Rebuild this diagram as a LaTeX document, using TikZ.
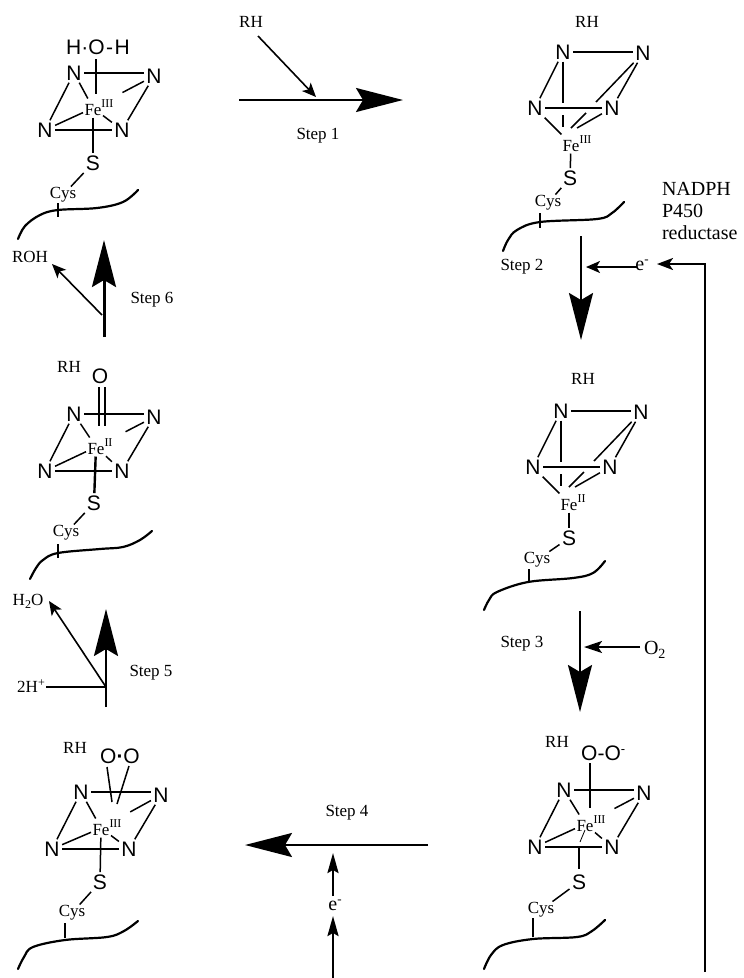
\documentclass[tikz,border=0pt]{standalone}
\usepackage{fontspec}
\setmainfont{Liberation Serif}
\newfontfamily\arialf{Liberation Sans}
\usetikzlibrary{arrows.meta}
\newcommand{\fsz}[1]{\fontsize{#1}{#1}\selectfont}
\newcommand{\feox}[1]{Fe\rlap{\raisebox{8pt}{\fsz{12}#1}}}
\newcommand{\minus}{\raisebox{7pt}{\fsz{13}-}}
\tikzset{
  atom/.style={font=\arialf\fsz{21},inner sep=2.5pt,outer sep=0pt},
  lbl/.style={font=\fsz{17},inner sep=0pt,outer sep=0pt},
  big/.style={font=\fsz{20},inner sep=0pt,outer sep=0pt,anchor=west},
  fenode/.style={font=\fsz{17},inner sep=1.5pt,outer sep=0pt},
  cysnode/.style={font=\fsz{17},inner sep=1pt,outer sep=0pt},
  bond/.style={line width=1.5pt,black},
  thickbond/.style={line width=2.4pt,black},
  chain/.style={line width=2.2pt,black,line cap=round},
  mainarrow/.style={line width=2.2pt,-{Stealth[length=47pt,width=24pt,inset=7pt]}},
  thinarrow/.style={line width=1.6pt,-{Stealth[length=14pt,width=12pt,inset=3.5pt]}},
  midarrow/.style={line width=2.4pt,-{Stealth[length=20pt,width=11pt,inset=3pt]}},
}
% flat heme: prefix, x, y of first N, Fe oxidation text, Fe offset x, y
\newcommand{\hemeflat}[6]{%
  \begin{scope}[shift={(#2,#3)}]
    \node[atom] (#1a) at (0,0) {N};
    \node[atom] (#1b) at (80,3) {N};
    \node[atom] (#1c) at (-29,57) {N};
    \node[atom] (#1d) at (48,57) {N};
    \node[fenode] (#1f) at (#5,#6) {\feox{#4}};
    \draw[bond] (#1a.east) -- (#1a.east -| #1b.west);
    \draw[bond] (#1c.east) -- (#1c.east -| #1d.west);
    \draw[bond] (#1a) -- (#1c);
    \draw[bond] (#1b) -- (#1d);
    \draw[bond] (#1a) -- (#1f);
    \draw[bond] (#1c) -- (#1f);
    \draw[bond] (#1d) -- (#1f);
    \draw[bond,shorten >=22pt] (#1b) -- (#1f);
  \end{scope}}
% upright heme: prefix, x, y of first N, Fe oxidation text
\newcommand{\hemeup}[4]{%
  \begin{scope}[shift={(#2,#3)}]
    \node[atom] (#1a) at (0,0) {N};
    \node[atom] (#1b) at (80,1) {N};
    \node[atom] (#1c) at (-28,56) {N};
    \node[atom] (#1d) at (49,56) {N};
    \node[fenode] (#1f) at (8,92) {\feox{#4}};
    \coordinate (#1v1) at (0,51);
    \coordinate (#1v2) at (0,63);
    \coordinate (#1v3) at (0,75);
    \coordinate (#1g1) at (33,50);
    \coordinate (#1g2) at (23,61);
    \coordinate (#1g3) at (8,76);
    \coordinate (#1h) at (14,76);
    \draw[bond] (#1a.east) -- (#1a.east -| #1b.west);
    \draw[bond] (#1c.east) -- (#1c.east -| #1d.west);
    \draw[bond] (#1a) -- (#1c);
    \draw[bond] (#1b) -- (#1d);
    \draw[bond] (#1a) -- (#1v1);
    \draw[bond] (#1v2) -- (#1v3);
    \draw[bond] (#1c) -- (#1f);
    \draw[bond] (#1d) -- (#1h);
    \draw[bond] (#1b) -- (#1g1);
    \draw[bond] (#1g2) -- (#1g3);
  \end{scope}}
\begin{document}
\begin{tikzpicture}[x=1pt,y=-1pt]
\useasboundingbox (0,0) rectangle (744,978);
\fill[white] (0,0) rectangle (744,978);

%% molecule 1: top left
\hemeflat{A}{74}{73}{III}{19}{35}
\node[atom,inner sep=0pt] (Aw) at (98,47) {H·O\kern1.5pt-\kern1.5pt H};
\coordinate (Aw1) at (96,59);
\coordinate (Aw2) at (96,94);
\draw[bond] (Aw1) -- (Aw2);
\node[atom] (AS) at (93,163) {S};
\node[cysnode] (AC) at (63,195) {Cys};
\draw[bond] (Af) -- (AS);
\draw[bond] (AS) -- (AC);
\draw[chain] plot[smooth,tension=.6] coordinates {(18,239) (25,226) (40,215) (58,210) (97,208) (123,202) (138,190)};
\coordinate (At1) at (58,203);
\coordinate (At2) at (58,217);
\draw[thickbond] (At1) -- (At2);

%% molecule 2: top right
\node[lbl] (Brh) at (587,22) {RH};
\hemeup{B}{563}{52}{III}
\node[atom] (BS) at (570,178) {S};
\node[cysnode] (BC) at (548,203) {Cys};
\draw[bond] (Bf) -- (BS);
\draw[bond] (BS) -- (BC);
\draw[chain] plot[smooth,tension=.6] coordinates {(503,251) (508,240) (517,230) (540,222) (597,219) (612,213) (624,202)};
\coordinate (Bt1) at (540,213);
\coordinate (Bt2) at (540,228);
\draw[thickbond] (Bt1) -- (Bt2);

%% molecule 3: right middle
\node[lbl] (Crh) at (583,379) {RH};
\hemeup{C}{561}{411}{II}
\node[atom] (CS) at (569,538) {S};
\node[cysnode] (CC) at (537,560) {Cys};
\draw[bond] (Cf) -- (CS);
\draw[bond] (CS) -- (CC);
\draw[chain] plot[smooth,tension=.6] coordinates {(484,610) (489,600) (497,592) (528,582) (573,578) (593,573) (605,561)};
\coordinate (Ct1) at (529,569);
\coordinate (Ct2) at (529,583);
\draw[bond] (Ct1) -- (Ct2);

%% molecule 4: bottom right
\node[lbl] (Drh) at (557,742) {RH};
\hemeflat{D}{564}{790}{III}{21}{34}
\node[atom,inner sep=0pt] (Do) at (601,753) {O-O\rlap{\raisebox{7pt}{\fsz{13}-}}};
\coordinate (Do1) at (590,763);
\coordinate (Do2) at (590,808);
\draw[bond] (Do1) -- (Do2);
\node[atom] (DS) at (579,882) {S};
\node[cysnode] (DC) at (541,910) {Cys};
\coordinate (Ds1) at (579,848);
\coordinate (Ds2) at (579,869);
\coordinate (Ds3) at (585,830);
\coordinate (Ds4) at (580,842);
\draw[thickbond] (Ds1) -- (Ds2);
\draw[line width=.8pt] (Ds3) -- (Ds4);
\draw[bond] (DS) -- (DC);
\draw[chain] plot[smooth,tension=.6] coordinates {(484,969) (491,955) (503,945) (533,939) (577,937) (592,931) (605,920)};
\coordinate (Dt1) at (533,918);
\coordinate (Dt2) at (533,937);
\draw[bond] (Dt1) -- (Dt2);

%% molecule 5: bottom left
\node[lbl] (Erh) at (75,748) {RH};
\hemeflat{E}{81}{792}{III}{20}{36}
\node[atom,inner sep=0pt] (Eo) at (120,756) {O\textbf{·}O};
\coordinate (Eo1) at (107,767);
\coordinate (Eo2) at (112,802);
\coordinate (Eo3) at (129,766);
\coordinate (Eo4) at (117,804);
\draw[bond] (Eo1) -- (Eo2);
\draw[bond] (Eo3) -- (Eo4);
\node[atom] (ES) at (100,882) {S};
\node[cysnode] (EC) at (72,913) {Cys};
\draw[bond] (Ef) -- (ES);
\draw[bond] (ES) -- (EC);
\draw[chain] plot[smooth,tension=.6] coordinates {(18,969) (24,957) (33,947) (65,940) (107,937) (124,931) (138,921)};
\coordinate (Et1) at (65,923);
\coordinate (Et2) at (65,938);
\draw[bond] (Et1) -- (Et2);

%% molecule 6: left middle
\node[lbl] (Frh) at (69,367) {RH};
\hemeflat{F}{74}{414}{II}{22}{33}
\node[atom,inner sep=0pt] (Fo) at (100,376) {O};
\coordinate (Fo1) at (99,387);
\coordinate (Fo2) at (99,426);
\coordinate (Fo3) at (105,387);
\coordinate (Fo4) at (105,426);
\draw[bond] (Fo1) -- (Fo2);
\draw[bond] (Fo3) -- (Fo4);
\node[atom] (FS) at (94,503) {S};
\node[cysnode] (FC) at (66,533) {Cys};
\draw[thickbond] (Ff) -- (FS);
\draw[bond] (FS) -- (FC);
\draw[chain] plot[smooth,tension=.6] coordinates {(30,579) (36,568) (43,560) (58,553) (100,549) (123,547) (140,540) (152,531)};
\coordinate (Ft1) at (58,544);
\coordinate (Ft2) at (58,558);
\draw[thickbond] (Ft1) -- (Ft2);

%% step 1
\node[lbl] (rh1) at (251,22) {RH};
\node[lbl] (st1) at (318,136) {Step 1};
\coordinate (s1a) at (239,100);
\coordinate (s1b) at (403,100);
\coordinate (s1c) at (258,36);
\coordinate (s1d) at (316,97);
\draw[mainarrow] (s1a) -- (s1b);
\draw[thinarrow] (s1c) -- (s1d);

%% step 2
\node[lbl] (st2) at (522,267) {Step 2};
\node[big,align=left,anchor=north west,font=\fsz{20}] (nadph) at (662,182) {NADPH\\[2pt]P450\\[2pt]reductase};
\node[font=\fsz{20},inner sep=0pt] (e1) at (642,265) {e\minus};
\coordinate (s2a) at (581,236);
\coordinate (s2b) at (581,340);
\coordinate (s2c) at (586,267);
\coordinate (s2d) at (637,267);
\coordinate (s2e) at (705,972);
\coordinate (s2f) at (705,264);
\coordinate (s2g) at (657,264);
\draw[mainarrow] (s2a) -- (s2b);
\draw[thinarrow] (s2d) -- (s2c);
\draw[line width=2.2pt,-{Stealth[length=16pt,width=12pt,inset=4pt]}] (s2e) -- (s2f) -- (s2g);

%% step 3
\node[lbl] (st3) at (522,644) {Step 3};
\node[big] (o2) at (644,650) {O\raisebox{-3.5pt}{\fsz{14}2}};
\coordinate (s3a) at (580,611);
\coordinate (s3b) at (580,712);
\coordinate (s3c) at (640,647);
\coordinate (s3d) at (584,647);
\draw[mainarrow] (s3a) -- (s3b);
\draw[line width=2pt,-{Stealth[length=18pt,width=12pt,inset=4pt]}] (s3c) -- (s3d);

%% step 4
\node[lbl] (st4) at (347,813) {Step 4};
\node[font=\fsz{20},inner sep=0pt] (e2) at (335,905) {e\minus};
\coordinate (s4a) at (428,845);
\coordinate (s4b) at (245,845);
\coordinate (s4c) at (333,978);
\coordinate (s4d) at (333,916);
\coordinate (s4e) at (333,896);
\coordinate (s4f) at (333,853);
\draw[mainarrow] (s4a) -- (s4b);
\draw[midarrow] (s4c) -- (s4d);
\draw[midarrow] (s4e) -- (s4f);

%% step 5
\node[lbl] (st5) at (151,673) {Step 5};
\node[lbl] (w1) at (28,601) {H\raisebox{-3pt}{\fsz{12}2}O};
\node[lbl] (h1) at (31,686) {2H\raisebox{6pt}{\fsz{12}+}};
\coordinate (s5a) at (106,707);
\coordinate (s5b) at (106,609);
\coordinate (s5c) at (106,687);
\coordinate (s5d) at (49,601);
\coordinate (s5e) at (46,687);
\draw[mainarrow] (s5a) -- (s5b);
\draw[thinarrow] (s5c) -- (s5d);
\draw[bond] (s5e) -- (s5c);

%% step 6
\node[lbl] (st6) at (152,300) {Step 6};
\node[lbl] (roh) at (30,257) {ROH};
\coordinate (s6a) at (104,337);
\coordinate (s6b) at (104,240);
\coordinate (s6c) at (102,315);
\coordinate (s6d) at (52,264);
\draw[line width=3pt,-{Stealth[length=47pt,width=24pt,inset=7pt]}] (s6a) -- (s6b);
\draw[thinarrow] (s6c) -- (s6d);
\end{tikzpicture}
\end{document}
